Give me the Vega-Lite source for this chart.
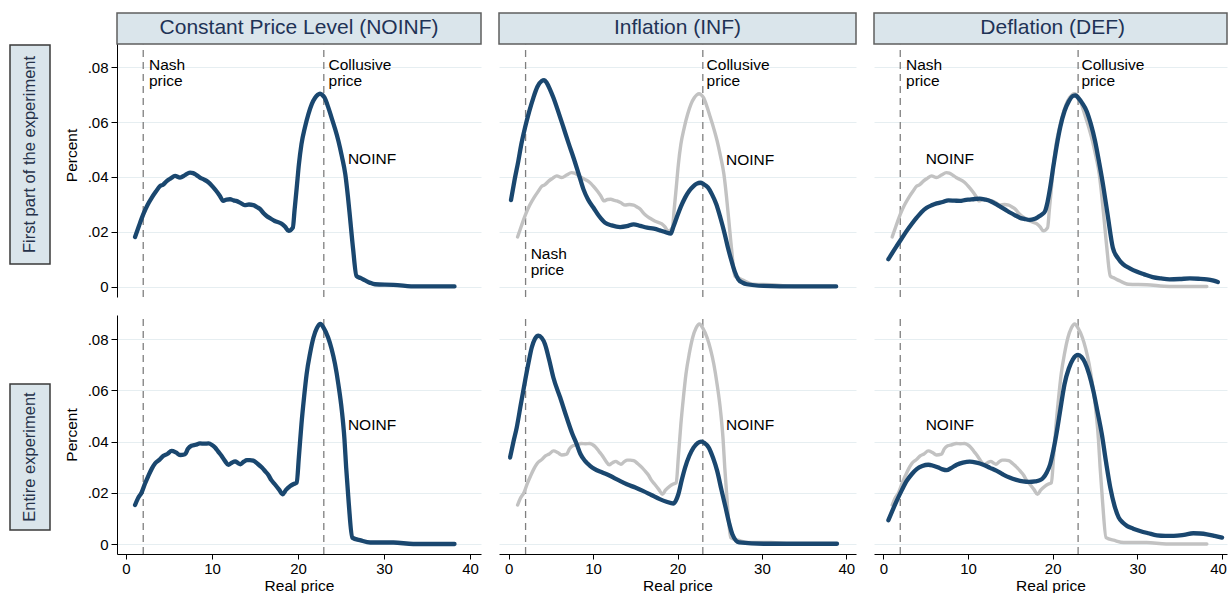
{
  "$schema": "https://vega.github.io/schema/vega-lite/v6.json",
  "padding": {"left": 0, "top": 12, "right": 0, "bottom": 0},
  "background": "white",
  "columns": 4,
  "spacing": {"row": 18, "column": 18},
  "bounds": "flush",
  "align": "each",
  "config": {
    "font": "Liberation Sans",
    "view": {"stroke": null},
    "axis": {"labelFontSize": 15, "labelColor": "#000000", "titleFontSize": 15.5, "titleFontWeight": "normal", "titleColor": "#000000", "domainColor": "#000000", "tickColor": "#000000", "gridColor": "#e6eef1", "gridWidth": 1}
  },
  "datasets": {
    "noinf1": [{"x":1.05,"y":0.0182},{"x":1.5,"y":0.0222},{"x":2.0,"y":0.0264},{"x":2.5,"y":0.0298},{"x":3.0,"y":0.0325},{"x":3.5,"y":0.0348},{"x":3.95,"y":0.0367},{"x":4.3,"y":0.0372},{"x":4.73,"y":0.0385},{"x":5.2,"y":0.0395},{"x":5.7,"y":0.0404},{"x":6.28,"y":0.0398},{"x":6.86,"y":0.0407},{"x":7.44,"y":0.0416},{"x":7.8,"y":0.0414},{"x":8.2,"y":0.0407},{"x":8.6,"y":0.0398},{"x":8.98,"y":0.0392},{"x":9.4,"y":0.0385},{"x":9.75,"y":0.0376},{"x":10.1,"y":0.0364},{"x":10.5,"y":0.0349},{"x":10.9,"y":0.0332},{"x":11.3,"y":0.0313},{"x":11.7,"y":0.0318},{"x":12.1,"y":0.0319},{"x":12.5,"y":0.0315},{"x":12.8,"y":0.0313},{"x":13.3,"y":0.0306},{"x":13.8,"y":0.0298},{"x":14.3,"y":0.03},{"x":14.8,"y":0.0298},{"x":15.2,"y":0.0291},{"x":15.6,"y":0.0283},{"x":16.0,"y":0.0268},{"x":16.35,"y":0.0258},{"x":16.8,"y":0.0249},{"x":17.3,"y":0.024},{"x":18.1,"y":0.023},{"x":18.5,"y":0.0219},{"x":18.9,"y":0.0204},{"x":19.4,"y":0.0216},{"x":19.6,"y":0.028},{"x":19.85,"y":0.0361},{"x":20.1,"y":0.0445},{"x":20.4,"y":0.0519},{"x":20.8,"y":0.058},{"x":21.2,"y":0.0628},{"x":21.6,"y":0.0665},{"x":21.99,"y":0.0688},{"x":22.3,"y":0.0699},{"x":22.56,"y":0.0703},{"x":22.8,"y":0.0699},{"x":23.1,"y":0.0688},{"x":23.5,"y":0.0655},{"x":23.9,"y":0.0616},{"x":24.3,"y":0.0576},{"x":24.7,"y":0.0531},{"x":25.1,"y":0.0475},{"x":25.5,"y":0.041},{"x":25.8,"y":0.033},{"x":26.05,"y":0.0252},{"x":26.4,"y":0.014},{"x":26.8,"y":0.004},{"x":27.3,"y":0.0032},{"x":27.8,"y":0.0024},{"x":28.4,"y":0.0015},{"x":28.95,"y":0.001},{"x":31.1,"y":0.0008},{"x":33.8,"y":0.0002},{"x":38.2,"y":0.0002}],
    "noinf2": [{"x":1.05,"y":0.0153},{"x":1.4,"y":0.018},{"x":1.8,"y":0.0201},{"x":2.2,"y":0.0236},{"x":2.6,"y":0.0267},{"x":3.0,"y":0.0295},{"x":3.37,"y":0.0315},{"x":3.9,"y":0.033},{"x":4.35,"y":0.0345},{"x":4.8,"y":0.0352},{"x":5.3,"y":0.0364},{"x":5.8,"y":0.0358},{"x":6.28,"y":0.0348},{"x":6.86,"y":0.0351},{"x":7.2,"y":0.0372},{"x":7.6,"y":0.0384},{"x":8.1,"y":0.0388},{"x":8.6,"y":0.0393},{"x":9.1,"y":0.0392},{"x":9.6,"y":0.0393},{"x":10.0,"y":0.0387},{"x":10.35,"y":0.0377},{"x":10.7,"y":0.0362},{"x":11.1,"y":0.0345},{"x":11.5,"y":0.0325},{"x":11.9,"y":0.031},{"x":12.3,"y":0.0318},{"x":12.7,"y":0.0323},{"x":13.0,"y":0.0317},{"x":13.3,"y":0.0312},{"x":13.7,"y":0.0322},{"x":14.05,"y":0.0328},{"x":14.4,"y":0.0328},{"x":14.8,"y":0.0326},{"x":15.3,"y":0.0314},{"x":15.8,"y":0.0299},{"x":16.2,"y":0.0284},{"x":16.55,"y":0.027},{"x":16.9,"y":0.025},{"x":17.3,"y":0.0234},{"x":17.8,"y":0.0213},{"x":18.2,"y":0.0195},{"x":18.6,"y":0.0212},{"x":19.1,"y":0.0227},{"x":19.5,"y":0.0235},{"x":19.85,"y":0.024},{"x":20.1,"y":0.034},{"x":20.4,"y":0.0468},{"x":20.7,"y":0.0572},{"x":21.0,"y":0.0663},{"x":21.4,"y":0.0744},{"x":21.8,"y":0.0806},{"x":22.2,"y":0.0843},{"x":22.6,"y":0.0859},{"x":23.0,"y":0.0843},{"x":23.5,"y":0.0806},{"x":23.9,"y":0.0762},{"x":24.3,"y":0.0703},{"x":24.7,"y":0.0622},{"x":25.1,"y":0.052},{"x":25.4,"y":0.041},{"x":25.6,"y":0.0299},{"x":25.9,"y":0.016},{"x":26.3,"y":0.0026},{"x":27.3,"y":0.0015},{"x":28.4,"y":0.0007},{"x":31.1,"y":0.0007},{"x":33.4,"y":0.0001},{"x":38.2,"y":0.0001}],
    "inf1": [{"x":0.27,"y":0.0316},{"x":0.7,"y":0.039},{"x":1.14,"y":0.0458},{"x":1.5,"y":0.052},{"x":1.93,"y":0.0579},{"x":2.4,"y":0.0635},{"x":2.92,"y":0.0688},{"x":3.4,"y":0.0728},{"x":3.91,"y":0.0749},{"x":4.2,"y":0.0752},{"x":4.5,"y":0.0743},{"x":4.9,"y":0.0718},{"x":5.3,"y":0.0688},{"x":5.9,"y":0.0635},{"x":6.5,"y":0.0579},{"x":7.1,"y":0.0522},{"x":7.68,"y":0.047},{"x":8.3,"y":0.041},{"x":8.86,"y":0.0355},{"x":9.4,"y":0.0318},{"x":10.05,"y":0.0288},{"x":10.7,"y":0.0258},{"x":11.4,"y":0.0234},{"x":12.2,"y":0.0224},{"x":13.2,"y":0.0218},{"x":14.0,"y":0.0221},{"x":14.8,"y":0.0228},{"x":15.6,"y":0.0222},{"x":16.4,"y":0.0216},{"x":17.2,"y":0.0212},{"x":17.9,"y":0.0206},{"x":18.6,"y":0.0199},{"x":19.2,"y":0.0194},{"x":19.5,"y":0.0218},{"x":19.9,"y":0.0252},{"x":20.4,"y":0.0292},{"x":20.9,"y":0.0325},{"x":21.4,"y":0.035},{"x":21.9,"y":0.0367},{"x":22.3,"y":0.0376},{"x":22.7,"y":0.0379},{"x":23.1,"y":0.0374},{"x":23.6,"y":0.0362},{"x":24.1,"y":0.0336},{"x":24.6,"y":0.0301},{"x":25.1,"y":0.025},{"x":25.6,"y":0.0192},{"x":26.0,"y":0.014},{"x":26.4,"y":0.0095},{"x":26.8,"y":0.0055},{"x":27.2,"y":0.0028},{"x":27.7,"y":0.0016},{"x":28.2,"y":0.001},{"x":30.2,"y":0.0004},{"x":34.1,"y":0.0002},{"x":38.8,"y":0.0002}],
    "inf2": [{"x":0.16,"y":0.0338},{"x":0.55,"y":0.0398},{"x":0.95,"y":0.0455},{"x":1.45,"y":0.0548},{"x":1.94,"y":0.0637},{"x":2.35,"y":0.0708},{"x":2.73,"y":0.0767},{"x":3.1,"y":0.08},{"x":3.52,"y":0.0813},{"x":3.9,"y":0.0805},{"x":4.3,"y":0.078},{"x":4.8,"y":0.0718},{"x":5.29,"y":0.065},{"x":6.1,"y":0.0572},{"x":6.87,"y":0.0494},{"x":7.5,"y":0.0434},{"x":8.06,"y":0.039},{"x":8.5,"y":0.0352},{"x":9.04,"y":0.0325},{"x":9.6,"y":0.0307},{"x":10.2,"y":0.0293},{"x":11.1,"y":0.028},{"x":12.0,"y":0.0267},{"x":13.0,"y":0.025},{"x":14.0,"y":0.0234},{"x":15.0,"y":0.0221},{"x":15.9,"y":0.0208},{"x":16.9,"y":0.0192},{"x":17.9,"y":0.0176},{"x":18.7,"y":0.0166},{"x":19.5,"y":0.0159},{"x":19.8,"y":0.017},{"x":20.1,"y":0.0195},{"x":20.5,"y":0.025},{"x":20.9,"y":0.0299},{"x":21.4,"y":0.0345},{"x":21.9,"y":0.0377},{"x":22.4,"y":0.0395},{"x":22.8,"y":0.04},{"x":23.2,"y":0.0395},{"x":23.7,"y":0.0377},{"x":24.2,"y":0.0338},{"x":24.7,"y":0.0286},{"x":25.2,"y":0.0213},{"x":25.7,"y":0.0143},{"x":26.1,"y":0.0085},{"x":26.5,"y":0.0039},{"x":27.3,"y":0.0007},{"x":30.2,"y":0.0002},{"x":38.9,"y":0.0002}],
    "def1": [{"x":0.6,"y":0.0101},{"x":1.1,"y":0.0126},{"x":1.58,"y":0.0149},{"x":2.2,"y":0.0178},{"x":2.76,"y":0.0204},{"x":3.35,"y":0.0229},{"x":3.94,"y":0.0252},{"x":4.5,"y":0.0272},{"x":5.12,"y":0.0288},{"x":5.7,"y":0.0297},{"x":6.3,"y":0.0304},{"x":7.0,"y":0.0309},{"x":7.68,"y":0.0315},{"x":8.4,"y":0.0314},{"x":9.06,"y":0.0313},{"x":9.6,"y":0.0316},{"x":10.2,"y":0.0318},{"x":10.8,"y":0.032},{"x":11.4,"y":0.0321},{"x":12.0,"y":0.0318},{"x":12.6,"y":0.0313},{"x":13.2,"y":0.0303},{"x":13.8,"y":0.0292},{"x":14.4,"y":0.0281},{"x":15.0,"y":0.027},{"x":15.6,"y":0.026},{"x":16.1,"y":0.0252},{"x":16.7,"y":0.0247},{"x":17.3,"y":0.0244},{"x":17.8,"y":0.0247},{"x":18.3,"y":0.0255},{"x":18.7,"y":0.0263},{"x":19.1,"y":0.0276},{"x":19.4,"y":0.031},{"x":19.7,"y":0.0361},{"x":20.1,"y":0.0443},{"x":20.5,"y":0.0519},{"x":20.9,"y":0.0583},{"x":21.4,"y":0.064},{"x":21.9,"y":0.0675},{"x":22.4,"y":0.0695},{"x":22.7,"y":0.0697},{"x":23.0,"y":0.0688},{"x":23.5,"y":0.0668},{"x":24.0,"y":0.064},{"x":24.5,"y":0.0593},{"x":25.0,"y":0.0531},{"x":25.5,"y":0.045},{"x":26.0,"y":0.0361},{"x":26.5,"y":0.026},{"x":27.1,"y":0.0143},{"x":27.7,"y":0.0105},{"x":28.3,"y":0.0083},{"x":29.1,"y":0.0068},{"x":29.9,"y":0.0056},{"x":30.8,"y":0.0046},{"x":31.8,"y":0.0036},{"x":32.8,"y":0.0031},{"x":33.8,"y":0.0028},{"x":35.0,"y":0.0029},{"x":36.2,"y":0.0031},{"x":37.2,"y":0.003},{"x":38.2,"y":0.0028},{"x":39.0,"y":0.0023},{"x":39.5,"y":0.0018}],
    "def2": [{"x":0.6,"y":0.0094},{"x":1.1,"y":0.0133},{"x":1.58,"y":0.0169},{"x":2.2,"y":0.0212},{"x":2.76,"y":0.0247},{"x":3.35,"y":0.0273},{"x":3.94,"y":0.0293},{"x":4.6,"y":0.0305},{"x":5.32,"y":0.031},{"x":5.9,"y":0.0306},{"x":6.5,"y":0.0299},{"x":7.0,"y":0.0292},{"x":7.48,"y":0.0289},{"x":8.0,"y":0.0297},{"x":8.67,"y":0.031},{"x":9.4,"y":0.0318},{"x":10.2,"y":0.0322},{"x":11.0,"y":0.0318},{"x":11.8,"y":0.031},{"x":12.6,"y":0.0298},{"x":13.4,"y":0.0286},{"x":14.1,"y":0.0273},{"x":14.9,"y":0.026},{"x":15.7,"y":0.0251},{"x":16.5,"y":0.0245},{"x":17.2,"y":0.0243},{"x":17.9,"y":0.0245},{"x":18.5,"y":0.025},{"x":18.9,"y":0.026},{"x":19.3,"y":0.028},{"x":19.7,"y":0.0312},{"x":20.1,"y":0.037},{"x":20.5,"y":0.0442},{"x":20.9,"y":0.0525},{"x":21.4,"y":0.0625},{"x":21.9,"y":0.0685},{"x":22.4,"y":0.0722},{"x":23.0,"y":0.0738},{"x":23.4,"y":0.073},{"x":23.8,"y":0.0709},{"x":24.3,"y":0.0663},{"x":24.8,"y":0.0598},{"x":25.3,"y":0.0515},{"x":25.8,"y":0.0429},{"x":26.3,"y":0.032},{"x":26.8,"y":0.0221},{"x":27.3,"y":0.015},{"x":27.8,"y":0.0104},{"x":28.3,"y":0.0084},{"x":28.8,"y":0.0071},{"x":29.5,"y":0.0061},{"x":30.3,"y":0.0052},{"x":31.3,"y":0.0043},{"x":32.3,"y":0.0035},{"x":33.3,"y":0.0033},{"x":34.3,"y":0.0033},{"x":35.5,"y":0.0037},{"x":36.6,"y":0.0043},{"x":37.4,"y":0.0042},{"x":38.2,"y":0.0039},{"x":39.1,"y":0.0033},{"x":40.0,"y":0.0026}],
    "prices": [{"x": 2, "name": "Nash price"}, {"x": 23, "name": "Collusive price"}]
  },
  "concat": [
    {
      "width": 99, "height": 284,
      "data": {"values": [{"label": "First part of the experiment"}]},
      "layer": [
        {"mark": {"type": "rect", "fill": "#dae5eb", "stroke": "#3a3a3a", "strokeWidth": 1.5},
         "encoding": {"x": {"datum": 10, "type": "quantitative", "scale": {"domain": [0, 99], "nice": false, "zero": false}, "axis": null}, "x2": {"datum": 50},
                      "y": {"datum": 33, "type": "quantitative", "scale": {"domain": [0, 284], "nice": false, "zero": false}, "axis": null}, "y2": {"datum": 252}}},
        {"mark": {"type": "text", "angle": 270, "fontSize": 16.5, "color": "#26324a", "align": "center", "baseline": "middle"},
         "encoding": {"text": {"field": "label"}, "x": {"datum": 30, "type": "quantitative", "scale": {"domain": [0, 99], "nice": false, "zero": false}, "axis": null},
                      "y": {"datum": 142.5, "type": "quantitative", "scale": {"domain": [0, 284], "nice": false, "zero": false}, "axis": null}}}
      ]
    },
    {
      "width": 364, "height": 284,
      "layer": [
        {"data": {"values": [{"title": "Constant Price Level (NOINF)"}]},
         "mark": {"type": "rect", "fill": "#dae5eb", "stroke": "#5f5f5f", "strokeWidth": 1.5},
         "encoding": {"x": {"datum": -1.05, "type": "quantitative", "scale": {"domain": [-1.05, 41.28], "nice": false, "zero": false}, "axis": null}, "x2": {"datum": 41.28},
                      "y": {"datum": 0.08836, "type": "quantitative", "scale": {"domain": [-0.00364, 0.09964], "nice": false, "zero": false},
                            "axis": {"values": [0, 0.02, 0.04, 0.06, 0.08], "labelExpr": "datum.value == 0 ? '0' : substring(format(datum.value, '.2f'), 1)", "title": "Percent", "grid": true, "tickSize": 6, "labelPadding": 3, "titlePadding": 8}},
                      "y2": {"datum": 0.09964}}},
        {"data": {"values": [{"title": "Constant Price Level (NOINF)"}]},
         "mark": {"type": "text", "fontSize": 21, "color": "#1f3356", "align": "center", "baseline": "middle"},
         "encoding": {"text": {"field": "title"}, "x": {"datum": 20.115, "type": "quantitative", "scale": {"domain": [-1.05, 41.28], "nice": false, "zero": false}, "axis": null},
                      "y": {"datum": 0.0941, "type": "quantitative", "scale": {"domain": [-0.00364, 0.09964], "nice": false, "zero": false}}}},
        {"data": {"name": "prices"},
         "mark": {"type": "rule", "stroke": "#7f7f7f", "strokeWidth": 1.3, "strokeDash": [7, 5]},
         "encoding": {"x": {"field": "x", "type": "quantitative", "scale": {"domain": [-1.05, 41.28], "nice": false, "zero": false}, "axis": null},
                      "y": {"datum": -0.00364, "type": "quantitative", "scale": {"domain": [-0.00364, 0.09964], "nice": false, "zero": false}}, "y2": {"datum": 0.08836}}},
        {"data": {"name": "noinf1"},
         "mark": {"type": "line", "stroke": "#1a476f", "strokeWidth": 4.3, "interpolate": "monotone", "strokeCap": "round", "strokeJoin": "round"},
         "encoding": {"x": {"field": "x", "type": "quantitative", "scale": {"domain": [-1.05, 41.28], "nice": false, "zero": false}, "axis": null},
                      "y": {"field": "y", "type": "quantitative", "scale": {"domain": [-0.00364, 0.09964], "nice": false, "zero": false}}}},
        {"data": {"values": [{"note": "Nash\nprice"}]},
         "mark": {"type": "text", "align": "left", "baseline": "top", "lineBreak": "\n", "lineHeight": 16, "fontSize": 15.5, "color": "#000000"},
         "encoding": {"text": {"field": "note"}, "x": {"datum": 2.67, "type": "quantitative", "scale": {"domain": [-1.05, 41.28], "nice": false, "zero": false}, "axis": null},
                      "y": {"datum": 0.0833, "type": "quantitative", "scale": {"domain": [-0.00364, 0.09964], "nice": false, "zero": false}}}},
        {"data": {"values": [{"note": "Collusive\nprice"}]},
         "mark": {"type": "text", "align": "left", "baseline": "top", "lineBreak": "\n", "lineHeight": 16, "fontSize": 15.5, "color": "#000000"},
         "encoding": {"text": {"field": "note"}, "x": {"datum": 23.55, "type": "quantitative", "scale": {"domain": [-1.05, 41.28], "nice": false, "zero": false}, "axis": null},
                      "y": {"datum": 0.0833, "type": "quantitative", "scale": {"domain": [-0.00364, 0.09964], "nice": false, "zero": false}}}},
        {"data": {"values": [{"note": "NOINF"}]},
         "mark": {"type": "text", "align": "left", "baseline": "middle", "fontSize": 15.5, "color": "#000000"},
         "encoding": {"text": {"field": "note"}, "x": {"datum": 25.8, "type": "quantitative", "scale": {"domain": [-1.05, 41.28], "nice": false, "zero": false}, "axis": null},
                      "y": {"datum": 0.0466, "type": "quantitative", "scale": {"domain": [-0.00364, 0.09964], "nice": false, "zero": false}}}}
      ]
    },
    {
      "width": 357, "height": 284,
      "layer": [
        {"data": {"values": [{"title": "Inflation (INF)"}]},
         "mark": {"type": "rect", "fill": "#dae5eb", "stroke": "#5f5f5f", "strokeWidth": 1.5},
         "encoding": {"x": {"datum": -1.15, "type": "quantitative", "scale": {"domain": [-1.15, 41.15], "nice": false, "zero": false}, "axis": null}, "x2": {"datum": 41.15},
                      "y": {"datum": 0.08836, "type": "quantitative", "scale": {"domain": [-0.00364, 0.09964], "nice": false, "zero": false},
                            "axis": {"values": [0, 0.02, 0.04, 0.06, 0.08], "grid": true, "domain": false, "ticks": false, "labels": false, "title": null}},
                      "y2": {"datum": 0.09964}}},
        {"data": {"values": [{"title": "Inflation (INF)"}]},
         "mark": {"type": "text", "fontSize": 21, "color": "#1f3356", "align": "center", "baseline": "middle"},
         "encoding": {"text": {"field": "title"}, "x": {"datum": 20.0, "type": "quantitative", "scale": {"domain": [-1.15, 41.15], "nice": false, "zero": false}, "axis": null},
                      "y": {"datum": 0.0941, "type": "quantitative", "scale": {"domain": [-0.00364, 0.09964], "nice": false, "zero": false}}}},
        {"data": {"name": "prices"},
         "mark": {"type": "rule", "stroke": "#7f7f7f", "strokeWidth": 1.3, "strokeDash": [7, 5]},
         "encoding": {"x": {"field": "x", "type": "quantitative", "scale": {"domain": [-1.15, 41.15], "nice": false, "zero": false}, "axis": null},
                      "y": {"datum": -0.00364, "type": "quantitative", "scale": {"domain": [-0.00364, 0.09964], "nice": false, "zero": false}}, "y2": {"datum": 0.08836}}},
        {"data": {"name": "noinf1"},
         "mark": {"type": "line", "stroke": "#c2c2c2", "strokeWidth": 3.4, "interpolate": "monotone", "strokeCap": "round", "strokeJoin": "round"},
         "encoding": {"x": {"field": "x", "type": "quantitative", "scale": {"domain": [-1.15, 41.15], "nice": false, "zero": false}, "axis": null},
                      "y": {"field": "y", "type": "quantitative", "scale": {"domain": [-0.00364, 0.09964], "nice": false, "zero": false}}}},
        {"data": {"name": "inf1"},
         "mark": {"type": "line", "stroke": "#1a476f", "strokeWidth": 4.3, "interpolate": "monotone", "strokeCap": "round", "strokeJoin": "round"},
         "encoding": {"x": {"field": "x", "type": "quantitative", "scale": {"domain": [-1.15, 41.15], "nice": false, "zero": false}, "axis": null},
                      "y": {"field": "y", "type": "quantitative", "scale": {"domain": [-0.00364, 0.09964], "nice": false, "zero": false}}}},
        {"data": {"values": [{"note": "Nash\nprice"}]},
         "mark": {"type": "text", "align": "left", "baseline": "top", "lineBreak": "\n", "lineHeight": 16, "fontSize": 15.5, "color": "#000000"},
         "encoding": {"text": {"field": "note"}, "x": {"datum": 2.6, "type": "quantitative", "scale": {"domain": [-1.15, 41.15], "nice": false, "zero": false}, "axis": null},
                      "y": {"datum": 0.0146, "type": "quantitative", "scale": {"domain": [-0.00364, 0.09964], "nice": false, "zero": false}}}},
        {"data": {"values": [{"note": "Collusive\nprice"}]},
         "mark": {"type": "text", "align": "left", "baseline": "top", "lineBreak": "\n", "lineHeight": 16, "fontSize": 15.5, "color": "#000000"},
         "encoding": {"text": {"field": "note"}, "x": {"datum": 23.45, "type": "quantitative", "scale": {"domain": [-1.15, 41.15], "nice": false, "zero": false}, "axis": null},
                      "y": {"datum": 0.0833, "type": "quantitative", "scale": {"domain": [-0.00364, 0.09964], "nice": false, "zero": false}}}},
        {"data": {"values": [{"note": "NOINF"}]},
         "mark": {"type": "text", "align": "left", "baseline": "middle", "fontSize": 15.5, "color": "#000000"},
         "encoding": {"text": {"field": "note"}, "x": {"datum": 25.75, "type": "quantitative", "scale": {"domain": [-1.15, 41.15], "nice": false, "zero": false}, "axis": null},
                      "y": {"datum": 0.0463, "type": "quantitative", "scale": {"domain": [-0.00364, 0.09964], "nice": false, "zero": false}}}}
      ]
    },
    {
      "width": 353, "height": 284,
      "layer": [
        {"data": {"values": [{"title": "Deflation (DEF)"}]},
         "mark": {"type": "rect", "fill": "#dae5eb", "stroke": "#5f5f5f", "strokeWidth": 1.5},
         "encoding": {"x": {"datum": -1.1, "type": "quantitative", "scale": {"domain": [-1.1, 40.58], "nice": false, "zero": false}, "axis": null}, "x2": {"datum": 40.58},
                      "y": {"datum": 0.08836, "type": "quantitative", "scale": {"domain": [-0.00364, 0.09964], "nice": false, "zero": false},
                            "axis": {"values": [0, 0.02, 0.04, 0.06, 0.08], "grid": true, "domain": false, "ticks": false, "labels": false, "title": null}},
                      "y2": {"datum": 0.09964}}},
        {"data": {"values": [{"title": "Deflation (DEF)"}]},
         "mark": {"type": "text", "fontSize": 21, "color": "#1f3356", "align": "center", "baseline": "middle"},
         "encoding": {"text": {"field": "title"}, "x": {"datum": 20.0, "type": "quantitative", "scale": {"domain": [-1.1, 40.58], "nice": false, "zero": false}, "axis": null},
                      "y": {"datum": 0.0941, "type": "quantitative", "scale": {"domain": [-0.00364, 0.09964], "nice": false, "zero": false}}}},
        {"data": {"name": "prices"},
         "mark": {"type": "rule", "stroke": "#7f7f7f", "strokeWidth": 1.3, "strokeDash": [7, 5]},
         "encoding": {"x": {"field": "x", "type": "quantitative", "scale": {"domain": [-1.1, 40.58], "nice": false, "zero": false}, "axis": null},
                      "y": {"datum": -0.00364, "type": "quantitative", "scale": {"domain": [-0.00364, 0.09964], "nice": false, "zero": false}}, "y2": {"datum": 0.08836}}},
        {"data": {"name": "noinf1"},
         "mark": {"type": "line", "stroke": "#c2c2c2", "strokeWidth": 3.4, "interpolate": "monotone", "strokeCap": "round", "strokeJoin": "round"},
         "encoding": {"x": {"field": "x", "type": "quantitative", "scale": {"domain": [-1.1, 40.58], "nice": false, "zero": false}, "axis": null},
                      "y": {"field": "y", "type": "quantitative", "scale": {"domain": [-0.00364, 0.09964], "nice": false, "zero": false}}}},
        {"data": {"name": "def1"},
         "mark": {"type": "line", "stroke": "#1a476f", "strokeWidth": 4.3, "interpolate": "monotone", "strokeCap": "round", "strokeJoin": "round"},
         "encoding": {"x": {"field": "x", "type": "quantitative", "scale": {"domain": [-1.1, 40.58], "nice": false, "zero": false}, "axis": null},
                      "y": {"field": "y", "type": "quantitative", "scale": {"domain": [-0.00364, 0.09964], "nice": false, "zero": false}}}},
        {"data": {"values": [{"note": "Nash\nprice"}]},
         "mark": {"type": "text", "align": "left", "baseline": "top", "lineBreak": "\n", "lineHeight": 16, "fontSize": 15.5, "color": "#000000"},
         "encoding": {"text": {"field": "note"}, "x": {"datum": 2.68, "type": "quantitative", "scale": {"domain": [-1.1, 40.58], "nice": false, "zero": false}, "axis": null},
                      "y": {"datum": 0.0833, "type": "quantitative", "scale": {"domain": [-0.00364, 0.09964], "nice": false, "zero": false}}}},
        {"data": {"values": [{"note": "Collusive\nprice"}]},
         "mark": {"type": "text", "align": "left", "baseline": "top", "lineBreak": "\n", "lineHeight": 16, "fontSize": 15.5, "color": "#000000"},
         "encoding": {"text": {"field": "note"}, "x": {"datum": 23.4, "type": "quantitative", "scale": {"domain": [-1.1, 40.58], "nice": false, "zero": false}, "axis": null},
                      "y": {"datum": 0.0833, "type": "quantitative", "scale": {"domain": [-0.00364, 0.09964], "nice": false, "zero": false}}}},
        {"data": {"values": [{"note": "NOINF"}]},
         "mark": {"type": "text", "align": "left", "baseline": "middle", "fontSize": 15.5, "color": "#000000"},
         "encoding": {"text": {"field": "note"}, "x": {"datum": 5.0, "type": "quantitative", "scale": {"domain": [-1.1, 40.58], "nice": false, "zero": false}, "axis": null},
                      "y": {"datum": 0.0466, "type": "quantitative", "scale": {"domain": [-0.00364, 0.09964], "nice": false, "zero": false}}}}
      ]
    },
    {
      "width": 99, "height": 239,
      "data": {"values": [{"label": "Entire experiment"}]},
      "layer": [
        {"mark": {"type": "rect", "fill": "#dae5eb", "stroke": "#3a3a3a", "strokeWidth": 1.5},
         "encoding": {"x": {"datum": 10, "type": "quantitative", "scale": {"domain": [0, 99], "nice": false, "zero": false}, "axis": null}, "x2": {"datum": 50},
                      "y": {"datum": 24, "type": "quantitative", "scale": {"domain": [0, 239], "nice": false, "zero": false}, "axis": null}, "y2": {"datum": 170}}},
        {"mark": {"type": "text", "angle": 270, "fontSize": 16.5, "color": "#26324a", "align": "center", "baseline": "middle"},
         "encoding": {"text": {"field": "label"}, "x": {"datum": 30, "type": "quantitative", "scale": {"domain": [0, 99], "nice": false, "zero": false}, "axis": null},
                      "y": {"datum": 97, "type": "quantitative", "scale": {"domain": [0, 239], "nice": false, "zero": false}, "axis": null}}}
      ]
    },
    {
      "width": 364, "height": 239,
      "layer": [
        {"data": {"name": "prices"},
         "mark": {"type": "rule", "stroke": "#7f7f7f", "strokeWidth": 1.3, "strokeDash": [7, 5]},
         "encoding": {"x": {"field": "x", "type": "quantitative", "scale": {"domain": [-1.05, 41.28], "nice": false, "zero": false},
                            "axis": {"values": [0, 10, 20, 30, 40], "grid": false, "tickSize": 5, "labelPadding": 2, "title": "Real price", "titlePadding": 2, "format": "d"}},
                      "y": {"datum": -0.00379, "type": "quantitative", "scale": {"domain": [-0.00379, 0.08938], "nice": false, "zero": false},
                            "axis": {"values": [0, 0.02, 0.04, 0.06, 0.08], "labelExpr": "datum.value == 0 ? '0' : substring(format(datum.value, '.2f'), 1)", "title": "Percent", "grid": true, "tickSize": 6, "labelPadding": 3, "titlePadding": 8}},
                      "y2": {"datum": 0.08938}}},
        {"data": {"name": "noinf2"},
         "mark": {"type": "line", "stroke": "#1a476f", "strokeWidth": 4.3, "interpolate": "monotone", "strokeCap": "round", "strokeJoin": "round"},
         "encoding": {"x": {"field": "x", "type": "quantitative", "scale": {"domain": [-1.05, 41.28], "nice": false, "zero": false}},
                      "y": {"field": "y", "type": "quantitative", "scale": {"domain": [-0.00379, 0.08938], "nice": false, "zero": false}}}},
        {"data": {"values": [{"note": "NOINF"}]},
         "mark": {"type": "text", "align": "left", "baseline": "middle", "fontSize": 15.5, "color": "#000000"},
         "encoding": {"text": {"field": "note"}, "x": {"datum": 25.8, "type": "quantitative", "scale": {"domain": [-1.05, 41.28], "nice": false, "zero": false}},
                      "y": {"datum": 0.0465, "type": "quantitative", "scale": {"domain": [-0.00379, 0.08938], "nice": false, "zero": false}}}}
      ]
    },
    {
      "width": 357, "height": 239,
      "layer": [
        {"data": {"name": "prices"},
         "mark": {"type": "rule", "stroke": "#7f7f7f", "strokeWidth": 1.3, "strokeDash": [7, 5]},
         "encoding": {"x": {"field": "x", "type": "quantitative", "scale": {"domain": [-1.15, 41.15], "nice": false, "zero": false},
                            "axis": {"values": [0, 10, 20, 30, 40], "grid": false, "tickSize": 5, "labelPadding": 2, "title": "Real price", "titlePadding": 2, "format": "d"}},
                      "y": {"datum": -0.00379, "type": "quantitative", "scale": {"domain": [-0.00379, 0.08938], "nice": false, "zero": false},
                            "axis": {"values": [0, 0.02, 0.04, 0.06, 0.08], "grid": true, "domain": false, "ticks": false, "labels": false, "title": null}},
                      "y2": {"datum": 0.08938}}},
        {"data": {"name": "noinf2"},
         "mark": {"type": "line", "stroke": "#c2c2c2", "strokeWidth": 3.4, "interpolate": "monotone", "strokeCap": "round", "strokeJoin": "round"},
         "encoding": {"x": {"field": "x", "type": "quantitative", "scale": {"domain": [-1.15, 41.15], "nice": false, "zero": false}},
                      "y": {"field": "y", "type": "quantitative", "scale": {"domain": [-0.00379, 0.08938], "nice": false, "zero": false}}}},
        {"data": {"name": "inf2"},
         "mark": {"type": "line", "stroke": "#1a476f", "strokeWidth": 4.3, "interpolate": "monotone", "strokeCap": "round", "strokeJoin": "round"},
         "encoding": {"x": {"field": "x", "type": "quantitative", "scale": {"domain": [-1.15, 41.15], "nice": false, "zero": false}},
                      "y": {"field": "y", "type": "quantitative", "scale": {"domain": [-0.00379, 0.08938], "nice": false, "zero": false}}}},
        {"data": {"values": [{"note": "NOINF"}]},
         "mark": {"type": "text", "align": "left", "baseline": "middle", "fontSize": 15.5, "color": "#000000"},
         "encoding": {"text": {"field": "note"}, "x": {"datum": 25.75, "type": "quantitative", "scale": {"domain": [-1.15, 41.15], "nice": false, "zero": false}},
                      "y": {"datum": 0.0465, "type": "quantitative", "scale": {"domain": [-0.00379, 0.08938], "nice": false, "zero": false}}}}
      ]
    },
    {
      "width": 353, "height": 239,
      "layer": [
        {"data": {"name": "prices"},
         "mark": {"type": "rule", "stroke": "#7f7f7f", "strokeWidth": 1.3, "strokeDash": [7, 5]},
         "encoding": {"x": {"field": "x", "type": "quantitative", "scale": {"domain": [-1.1, 40.58], "nice": false, "zero": false},
                            "axis": {"values": [0, 10, 20, 30, 40], "grid": false, "tickSize": 5, "labelPadding": 2, "title": "Real price", "titlePadding": 2, "format": "d",
                                     "labelOffset": {"condition": {"test": "datum.value == 40", "value": -4}, "value": 0}}},
                      "y": {"datum": -0.00379, "type": "quantitative", "scale": {"domain": [-0.00379, 0.08938], "nice": false, "zero": false},
                            "axis": {"values": [0, 0.02, 0.04, 0.06, 0.08], "grid": true, "domain": false, "ticks": false, "labels": false, "title": null}},
                      "y2": {"datum": 0.08938}}},
        {"data": {"name": "noinf2"},
         "mark": {"type": "line", "stroke": "#c2c2c2", "strokeWidth": 3.4, "interpolate": "monotone", "strokeCap": "round", "strokeJoin": "round"},
         "encoding": {"x": {"field": "x", "type": "quantitative", "scale": {"domain": [-1.1, 40.58], "nice": false, "zero": false}},
                      "y": {"field": "y", "type": "quantitative", "scale": {"domain": [-0.00379, 0.08938], "nice": false, "zero": false}}}},
        {"data": {"name": "def2"},
         "mark": {"type": "line", "stroke": "#1a476f", "strokeWidth": 4.3, "interpolate": "monotone", "strokeCap": "round", "strokeJoin": "round"},
         "encoding": {"x": {"field": "x", "type": "quantitative", "scale": {"domain": [-1.1, 40.58], "nice": false, "zero": false}},
                      "y": {"field": "y", "type": "quantitative", "scale": {"domain": [-0.00379, 0.08938], "nice": false, "zero": false}}}},
        {"data": {"values": [{"note": "NOINF"}]},
         "mark": {"type": "text", "align": "left", "baseline": "middle", "fontSize": 15.5, "color": "#000000"},
         "encoding": {"text": {"field": "note"}, "x": {"datum": 5.0, "type": "quantitative", "scale": {"domain": [-1.1, 40.58], "nice": false, "zero": false}},
                      "y": {"datum": 0.0466, "type": "quantitative", "scale": {"domain": [-0.00379, 0.08938], "nice": false, "zero": false}}}}
      ]
    }
  ]
}
